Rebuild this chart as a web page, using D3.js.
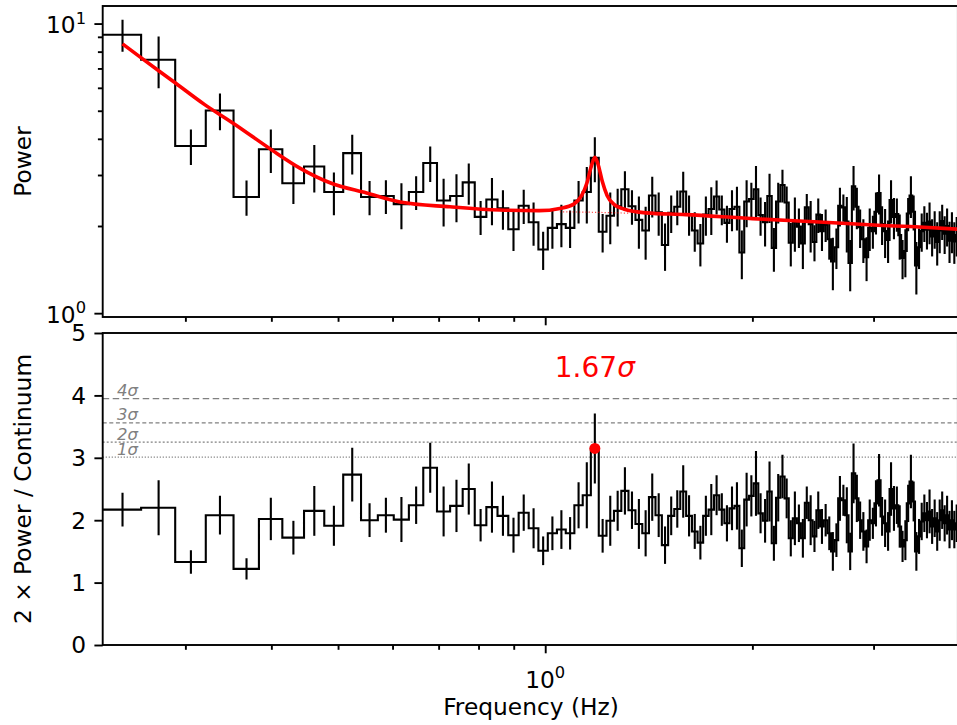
<!DOCTYPE html>
<html>
<head>
<meta charset="utf-8">
<script src="https://cdn.jsdelivr.net/npm/d3@7"></script>
<style>
body { margin: 0; background: #fff; }
text { font-family: "DejaVu Sans", sans-serif; }
</style>
</head>
<body>
<script>
// bin centre frequencies (Hz)
var freq = [0.2431,0.2743,0.3056,0.3368,0.3681,0.3993,0.4306,0.4618,0.4931,0.5243,
  0.5556,0.5868,0.6181,0.6493,0.6806,0.7118,0.7431,0.7743,0.8056,0.8368,
  0.8681,0.8993,0.9306,0.9618,0.9931,1.0243,1.0556,1.0868,1.1181,1.1493,
  1.1806,1.2118,1.2431,1.2743,1.3056,1.3368,1.3681,1.3993,1.4306,1.4618,
  1.4931,1.5243,1.5556,1.5868,1.6181,1.6493,1.6806,1.7118,1.7431,1.7743,
  1.8056,1.8368,1.8681,1.8993,1.9306,1.9618,1.9931,2.0243,2.0556,2.0868,
  2.1181,2.1493,2.1806,2.2118,2.2431,2.2743,2.3056,2.3368,2.3681,2.3993,
  2.4306,2.4618,2.4931,2.5243,2.5556,2.5868,2.6181,2.6493,2.6806,2.7118,
  2.7431,2.7743,2.8056,2.8368,2.8681,2.8993,2.9306,2.9618,2.9931,3.0243,
  3.0556,3.0868,3.1181,3.1493,3.1806,3.2118,3.2431,3.2743,3.3056,3.3368,
  3.3681,3.3993,3.4306,3.4618,3.4931,3.5243,3.5556,3.5868,3.6181,3.6493,
  3.6806,3.7118,3.7431,3.7743,3.8056,3.8368,3.8681,3.8993,3.9306,3.9618];

// top panel: power and its error
var power = [9.15,7.50,3.78,5.01,2.52,3.68,2.81,3.21,2.62,3.57,
  2.52,2.54,2.38,2.62,3.30,2.45,2.54,2.83,2.15,2.47,
  2.30,1.95,2.35,2.06,1.66,1.97,2.03,1.97,2.45,2.62,
  3.44,1.91,2.17,2.34,2.68,2.34,2.10,1.93,2.55,2.23,
  1.72,2.22,2.33,2.63,2.20,1.93,1.74,2.19,2.29,2.53,
  2.28,2.05,2.29,2.33,1.62,2.43,2.48,2.68,2.18,2.06,
  2.54,1.68,2.43,2.77,2.41,1.75,2.07,1.99,1.74,2.32,
  2.03,1.76,2.19,1.92,2.02,1.80,1.51,1.69,2.35,2.32,
  2.07,1.49,2.74,2.33,1.98,1.80,1.56,1.97,1.92,2.24,
  2.60,2.03,1.92,1.79,2.46,2.15,2.20,1.86,1.55,1.64,
  2.21,2.55,2.24,1.46,1.69,1.92,2.05,1.94,2.07,1.84,
  1.96,1.76,1.93,2.08,1.88,2.00,1.78,1.92,1.77,1.86];
var powerErr = [1.15,1.52,0.53,0.73,0.35,0.63,0.43,0.60,0.44,0.56,
  0.34,0.34,0.43,0.35,0.46,0.46,0.48,0.46,0.29,0.46,
  0.36,0.31,0.32,0.35,0.25,0.30,0.34,0.29,0.41,0.58,
  0.61,0.29,0.44,0.35,0.41,0.32,0.43,0.40,0.41,0.38,
  0.32,0.33,0.32,0.45,0.35,0.30,0.29,0.34,0.43,0.34,
  0.27,0.30,0.37,0.40,0.31,0.45,0.34,0.54,0.33,0.36,
  0.49,0.29,0.39,0.36,0.33,0.30,0.44,0.31,0.32,0.26,
  0.41,0.25,0.30,0.28,0.26,0.27,0.31,0.27,0.36,0.25,
  0.45,0.30,0.48,0.38,0.30,0.31,0.27,0.33,0.25,0.37,
  0.41,0.31,0.37,0.30,0.42,0.35,0.29,0.33,0.24,0.31,
  0.29,0.42,0.31,0.30,0.27,0.29,0.29,0.28,0.34,0.27,
  0.29,0.30,0.32,0.29,0.28,0.30,0.29,0.31,0.29,0.29];

// bottom panel: 2 x power / continuum
var ratio = [2.17,2.20,1.33,2.08,1.22,2.02,1.72,2.15,1.91,2.73,
  2.00,2.08,2.01,2.24,2.84,2.14,2.23,2.50,1.92,2.21,
  2.07,1.76,2.12,1.87,1.51,1.79,1.85,1.79,2.24,2.40,
  3.15,1.75,1.99,2.15,2.47,2.16,1.94,1.79,2.37,2.08,
  1.60,2.07,2.18,2.46,2.07,1.82,1.64,2.07,2.17,2.40,
  2.17,1.95,2.19,2.23,1.55,2.33,2.39,2.59,2.11,1.99,
  2.46,1.63,2.36,2.70,2.35,1.71,2.03,1.95,1.71,2.28,
  2.00,1.74,2.16,1.90,2.00,1.79,1.50,1.68,2.35,2.32,
  2.08,1.50,2.75,2.35,2.00,1.82,1.58,2.00,1.95,2.27,
  2.64,2.06,1.95,1.82,2.50,2.19,2.24,1.90,1.58,1.68,
  2.27,2.62,2.30,1.50,1.74,1.98,2.11,2.00,2.14,1.90,
  2.03,1.82,2.00,2.16,1.95,2.08,1.85,2.00,1.85,1.95];
var ratioErr = [0.27,0.44,0.19,0.31,0.17,0.34,0.27,0.40,0.32,0.43,
  0.27,0.28,0.36,0.30,0.40,0.40,0.42,0.41,0.26,0.41,
  0.32,0.28,0.29,0.32,0.23,0.27,0.31,0.26,0.37,0.53,
  0.56,0.27,0.40,0.32,0.38,0.30,0.40,0.37,0.38,0.35,
  0.30,0.31,0.30,0.42,0.33,0.28,0.27,0.32,0.41,0.32,
  0.26,0.29,0.35,0.38,0.30,0.43,0.33,0.52,0.32,0.35,
  0.48,0.28,0.38,0.35,0.32,0.29,0.43,0.30,0.31,0.26,
  0.40,0.25,0.30,0.28,0.26,0.27,0.31,0.27,0.36,0.25,
  0.45,0.30,0.48,0.38,0.30,0.31,0.27,0.33,0.25,0.37,
  0.42,0.31,0.38,0.31,0.43,0.36,0.30,0.34,0.25,0.32,
  0.30,0.43,0.32,0.31,0.28,0.30,0.30,0.29,0.35,0.28,
  0.30,0.31,0.33,0.30,0.29,0.31,0.30,0.32,0.30,0.30];

// fitted model (continuum + QPO)
var modelFreq = [0.2431,0.26,0.2882,0.32,0.352,0.4006,0.44,0.4868,0.55,0.615,0.727,0.859,0.98,1.05,1.1,
  1.13,1.15,1.165,1.181,1.195,1.21,1.23,1.26,1.3,1.4,1.6,2.0,2.5,3.0,3.5,3.978];
var modelPower = [8.51,7.55,6.31,5.25,4.53,3.66,3.17,2.82,2.60,2.42,2.33,2.27,2.26,2.30,2.38,
  2.55,2.82,3.18,3.45,3.23,2.86,2.55,2.37,2.29,2.22,2.19,2.12,2.065,2.015,1.985,1.95];
// continuum alone, dotted under the QPO
var contFreq = [1.05, 1.18, 1.32];
var contPower = [2.24, 2.23, 2.215];

var sigmaLabels = ["1σ", "2σ", "3σ", "4σ"];
var sigmaLevels = [3.01, 3.25, 3.56, 3.947];
var sigmaDash = ["1.2,1.8", "2,2", "4,2.6", "6.5,3.5"];
var qpoIndex = 30;
var qpoText = "1.67";

var xMajor = [1];
var xMinor = [0.3, 0.4, 0.5, 0.6, 0.7, 0.8, 0.9, 2, 3];
var yTopMajor = [1, 10];
var yTopMinor = [2, 3, 4, 5, 6, 7, 8, 9];
var yBotTicks = [0, 1, 2, 3, 4, 5];

var w = 957, h = 725, fs = 23.3;
var svg = d3.select("body").append("svg").attr("width", w).attr("height", h);

var left = 102.7, right = 957.9;
var x = d3.scaleLog().domain([0.2275, 3.978]).range([left, right]);
var yTop = d3.scaleLog().domain([0.97, 11.5]).range([317, 6]);
var yBot = d3.scaleLinear().domain([0, 5]).range([645, 333]);

// bin edges halfway between centres
var edges = freq.map(function(f, i) {
  return i == 0 ? f - (freq[1] - freq[0]) / 2 : (freq[i - 1] + f) / 2;
});
edges.push(freq[freq.length - 1] + (freq[1] - freq[0]) / 2);

function stepPoints(vals) {
  var pts = [];
  vals.forEach(function(v, i) { pts.push([edges[i], v], [edges[i + 1], v]); });
  return pts;
}

function panel(y, id, vals, errs) {
  var r = y.range();
  svg.append("clipPath").attr("id", id).append("rect")
    .attr("x", left).attr("y", r[1]).attr("width", right - left).attr("height", r[0] - r[1]);
  var g = svg.append("g").attr("clip-path", "url(#" + id + ")");
  g.append("path").datum(stepPoints(vals))
    .attr("d", d3.line().x(function(d) { return x(d[0]) }).y(function(d) { return y(d[1]) }))
    .attr("fill", "none").attr("stroke", "#000").attr("stroke-width", 2.1);
  g.selectAll("line.err").data(vals).enter().append("line")
    .attr("x1", function(d, i) { return x(freq[i]) })
    .attr("x2", function(d, i) { return x(freq[i]) })
    .attr("y1", function(d, i) { return y(d + errs[i]) })
    .attr("y2", function(d, i) { return y(Math.max(d - errs[i], 0.01)) })
    .attr("stroke", "#000").attr("stroke-width", 2.1);
  return g;
}

function xTicks(yPos) {
  [[xMinor, 4.8], [xMajor, 8.3]].forEach(function(t) {
    svg.append("g").attr("transform", "translate(0," + yPos + ")")
      .call(d3.axisBottom(x).tickValues(t[0]).tickSize(t[1]).tickFormat(""))
      .call(function(g) { g.select(".domain").remove() })
      .selectAll("line").attr("stroke-width", 1.9);
  });
}

function yTicks(y, vals, size) {
  svg.append("g").attr("transform", "translate(" + left + ",0)")
    .call(d3.axisLeft(y).tickValues(vals).tickSize(size).tickFormat(""))
    .call(function(g) { g.select(".domain").remove() })
    .selectAll("line").attr("stroke-width", 1.9);
}

function powLabel(sel, exp) {
  sel.append("tspan").text("10");
  sel.append("tspan").text(exp).attr("font-size", fs * 0.7).attr("dy", -fs * 0.42);
}

// ---- top panel
var topG = panel(yTop, "clipTop", power, powerErr);
topG.append("path").datum(d3.zip(modelFreq, modelPower))
  .attr("d", d3.line().x(function(d) { return x(d[0]) }).y(function(d) { return yTop(d[1]) }).curve(d3.curveMonotoneX))
  .attr("fill", "none").attr("stroke", "#ff0000").attr("stroke-width", 3.6);
topG.append("path").datum(d3.zip(contFreq, contPower))
  .attr("d", d3.line().x(function(d) { return x(d[0]) }).y(function(d) { return yTop(d[1]) }))
  .attr("fill", "none").attr("stroke", "#ff0000").attr("stroke-width", 1.2)
  .attr("stroke-dasharray", "1.2,2").attr("opacity", 0.7);

xTicks(317);
yTicks(yTop, yTopMinor, 4.8);
yTicks(yTop, yTopMajor, 8.3);
yTopMajor.forEach(function(v) {
  var t = svg.append("text").attr("x", 86).attr("y", yTop(v)).attr("dy", "0.42em")
    .attr("text-anchor", "end").attr("font-size", fs);
  powLabel(t, v == 10 ? "1" : "0");
});
svg.append("rect").attr("x", left).attr("y", 6).attr("width", right - left).attr("height", 311)
  .attr("fill", "none").attr("stroke", "#000").attr("stroke-width", 1.9);
svg.append("text").attr("transform", "translate(31,161.5) rotate(-90)")
  .attr("text-anchor", "middle").attr("font-size", fs).text("Power");

// ---- bottom panel
sigmaLevels.forEach(function(v, i) {
  svg.append("line").attr("x1", left).attr("x2", right).attr("y1", yBot(v)).attr("y2", yBot(v))
    .attr("stroke", "#808080").attr("stroke-width", 1.3).attr("stroke-dasharray", sigmaDash[i]);
  svg.append("text").attr("x", 117).attr("y", yBot(v) - 2.5).attr("font-size", 16.5)
    .attr("font-style", "italic").attr("fill", "#808080").text(sigmaLabels[i]);
});

var botG = panel(yBot, "clipBot", ratio, ratioErr);
botG.append("circle").attr("cx", x(freq[qpoIndex])).attr("cy", yBot(ratio[qpoIndex]))
  .attr("r", 5.5).attr("fill", "#ff0000");

var sig = svg.append("text").attr("x", x(freq[qpoIndex])).attr("y", 377)
  .attr("text-anchor", "middle").attr("font-size", 28).attr("fill", "#ff0000");
sig.append("tspan").text(qpoText);
sig.append("tspan").attr("font-style", "italic").text("σ");

xTicks(645);
yTicks(yBot, yBotTicks, 8.3);
yBotTicks.forEach(function(v) {
  svg.append("text").attr("x", 86).attr("y", yBot(v)).attr("dy", "0.36em")
    .attr("text-anchor", "end").attr("font-size", fs).text(v);
});
xMajor.forEach(function(v) {
  var t = svg.append("text").attr("x", x(v)).attr("y", 688)
    .attr("text-anchor", "middle").attr("font-size", fs);
  powLabel(t, "0");
});
svg.append("rect").attr("x", left).attr("y", 333).attr("width", right - left).attr("height", 312)
  .attr("fill", "none").attr("stroke", "#000").attr("stroke-width", 1.9);
svg.append("text").attr("transform", "translate(31,489) rotate(-90)")
  .attr("text-anchor", "middle").attr("font-size", fs).text("2 × Power / Continuum");
svg.append("text").attr("x", 531).attr("y", 715)
  .attr("text-anchor", "middle").attr("font-size", fs).text("Frequency (Hz)");
</script>
</body>
</html>
